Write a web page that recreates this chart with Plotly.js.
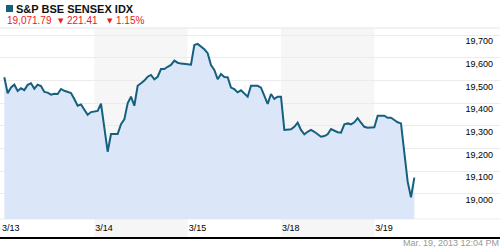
<!DOCTYPE html>
<html><head><meta charset="utf-8">
<script src="https://cdn.plot.ly/plotly-3.0.1.min.js"></script>
<style>html,body{margin:0;padding:0;background:#fff}#chart{width:500px;height:250px}</style>
</head><body><div id="chart"></div>
<script>
// ---- data ----
const dayLabels = ['3/13', '3/14', '3/15', '3/18', '3/19'];
const day0313 = [19515,19444,19470,19482,19454,19466,19458,19481,19488,19464,19482,19476,19450,19447,19438,19442,19441,19463,19455,19451,19445,19419,19389,19395,19373,19349,19361,19363];
const day0314 = [19366,19398,19295,19186,19264,19264,19264,19308,19329,19400,19429,19389,19477,19488,19500,19517,19525,19506,19517,19551,19551,19561,19569,19588,19579,19575,19572,19572];
const day0315 = [19570,19657,19662,19650,19638,19621,19569,19547,19506,19529,19516,19515,19469,19462,19448,19457,19445,19429,19477,19476,19477,19469,19432,19397,19441,19419,19429,19429];
const day0318 = [19282,19282,19285,19296,19314,19282,19263,19274,19282,19274,19264,19252,19255,19263,19286,19279,19272,19270,19307,19311,19307,19316,19334,19314,19296,19292,19292,19294];
const day0319 = [19345,19344,19345,19336,19336,19326,19316,19311,19186,19054,18985,19071.79];
const yTicks = [19000, 19100, 19200, 19300, 19400, 19500, 19600, 19700];
const indexName = 'S&amp;P BSE SENSEX IDX';
const lastValue = '19,071.79';
const netChange = '221.41';
const pctChange = '1.15%';
const timestamp = 'Mar. 19, 2013 12:04 PM';
const samplesPerDay = 28;

// ---- build series ----
const days = [day0313, day0314, day0315, day0318, day0319];
const xs = [], ys = [];
days.forEach((arr, d) => arr.forEach((v, i) => { xs.push(d + (i + 1) / samplesPerDay); ys.push(v); }));
const fillBase = 18889;

const W = 500, H = 250, M = {l: 0, r: 0, t: 28, b: 13};
const px = p => p / W;
const py = p => (H - M.b - p) / (H - M.t - M.b);

const lineColor = '#15607e';
const red = '#e8191b';

const traces = [
  {x: [xs[0], xs[xs.length - 1]], y: [fillBase, fillBase], mode: 'lines', line: {width: 0, color: 'rgba(0,0,0,0)'}, hoverinfo: 'skip', showlegend: false},
  {x: xs, y: ys, mode: 'lines', fill: 'tonexty', fillcolor: '#dbe6f8', line: {color: lineColor, width: 2}, showlegend: false}
];

const ann = (text, x, y, opts) => Object.assign({text, x: px(x), y: py(y), xref: 'paper', yref: 'paper', showarrow: false, xanchor: 'left', yanchor: 'middle', borderpad: 0, font: {family: 'Liberation Sans, Arial, sans-serif', size: 10, color: red}}, opts || {});

const layout = {
  width: W, height: H, margin: M,
  paper_bgcolor: '#fff', plot_bgcolor: '#fff',
  xaxis: {
    range: [-0.0107, 5.3465], tickvals: [0, 1, 2, 3, 4], ticktext: dayLabels,
    ticklabelposition: 'inside right', ticks: '', showgrid: false, zeroline: false,
    showline: true, linecolor: '#000', linewidth: 2,
    tickfont: {family: 'Liberation Sans, Arial, sans-serif', size: 9, color: '#000'}
  },
  yaxis: {
    side: 'right', range: [18809.5, 19732.2], tickvals: yTicks, tickformat: ',d',
    ticklabelposition: 'inside', ticklabelshift: 6, ticklabelstandoff: 4,
    showgrid: true, gridcolor: '#ebebeb', gridwidth: 1, zeroline: false, showline: false, ticks: '',
    tickfont: {family: 'Liberation Sans, Arial, sans-serif', size: 9, color: '#000'}
  },
  shapes: [
    {type: 'rect', xref: 'x', yref: 'paper', x0: 1, x1: 2, y0: 0, y1: 1, fillcolor: '#f6f6f6', line: {width: 0}, layer: 'below'},
    {type: 'rect', xref: 'x', yref: 'paper', x0: 3, x1: 4, y0: 0, y1: 1, fillcolor: '#f6f6f6', line: {width: 0}, layer: 'below'},
    {type: 'line', xref: 'paper', yref: 'paper', x0: 0, x1: 1, y0: 1, y1: 1, line: {color: '#e6e6e6', width: 1}},
    {type: 'line', xref: 'paper', yref: 'y', x0: 0, x1: 1, y0: fillBase, y1: fillBase, line: {color: '#ececec', width: 1}, layer: 'below'},
    {type: 'rect', xref: 'paper', yref: 'paper', x0: px(6), x1: px(13), y0: py(12), y1: py(5), fillcolor: lineColor, line: {width: 0}}
  ],
  annotations: [
    ann('<b>' + indexName + '</b>', 15, 8.7, {font: {family: 'Liberation Sans, Arial, sans-serif', size: 11, color: '#111'}}),
    ann(lastValue, 5.5, 20.7),
    ann('▼', 56.5, 20.5, {font: {family: 'DejaVu Sans, sans-serif', size: 7, color: red}}),
    ann(netChange, 65.5, 20.7),
    ann('▼', 105.5, 20.5, {font: {family: 'DejaVu Sans, sans-serif', size: 7, color: red}}),
    ann(pctChange, 114.5, 20.7),
    ann(timestamp, 500, 243, {xanchor: 'right', font: {family: 'Liberation Sans, Arial, sans-serif', size: 9, color: '#999'}})
  ]
};

Plotly.newPlot('chart', traces, layout, {staticPlot: true, displayModeBar: false});
</script>
</body></html>
